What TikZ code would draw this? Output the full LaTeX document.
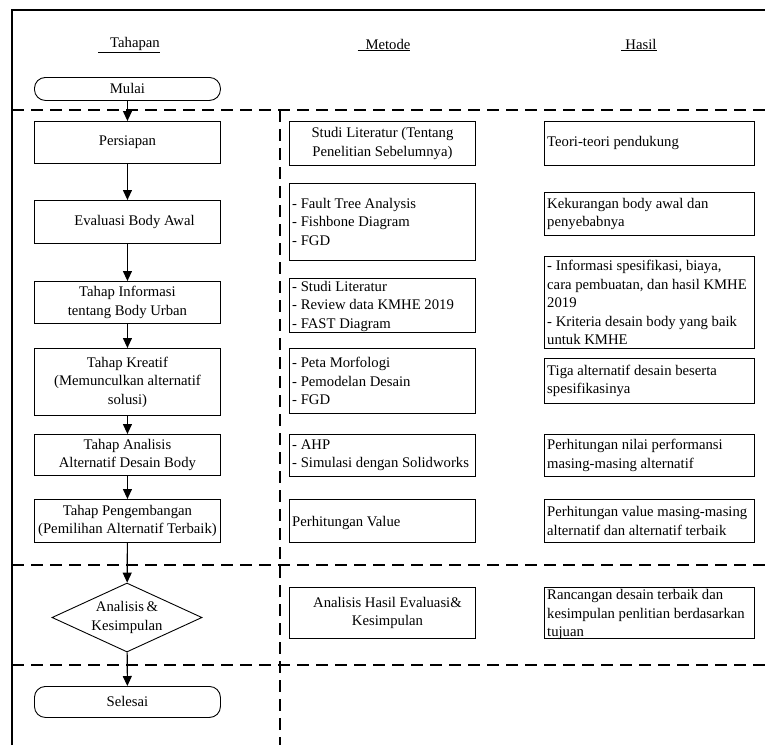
\documentclass[tikz,border=0pt]{standalone}
\usepackage{fontspec}
\setmainfont{Liberation Serif}
\usetikzlibrary{arrows.meta,shapes.geometric}
\begin{document}
\begin{tikzpicture}[x=1pt,y=-1pt,
  font=\fontsize{14.7}{18.5}\selectfont,
  bx/.style={draw, line width=0.9pt, rectangle, inner sep=0pt, anchor=north west, minimum width=#1},
  bx/.default=186pt,
  lbox/.style={bx, align=center},
  rbox/.style={draw, line width=0.9pt, rectangle, rounded corners=11pt, inner sep=0pt, anchor=north west, minimum width=186pt},
  txt/.style={anchor=west, align=left, inner sep=0pt},
  arr/.style={line width=1.1pt, -{Triangle[length=10pt,width=9pt]}},
  sep/.style={line width=2.6pt, dash pattern=on 12pt off 7pt},
  hdr/.style={inner sep=0pt}
]
\useasboundingbox (0,0) rectangle (765,745);
% frame
\draw[line width=1.1pt] (12,745) -- (12,10) -- (765,10);
% separators
\draw[sep] (12,110) -- (765,110);
\draw[sep] (280,110) -- (280,745);
\draw[sep] (12,565) -- (765,565);
\draw[sep] (12,665) -- (765,665);
% headers
\node[hdr] (hT) at (129,45) {\underline{\hspace{12pt}Tahapan}};
\node[hdr] (hM) at (384,45) {\underline{\hspace{8pt}Metode}};
\node[hdr] (hH) at (639,45) {\underline{\hspace{4pt}Hasil}};
% left column
\node[rbox, minimum height=23pt] (mulai) at (34,77) {Mulai};
\node[lbox, minimum height=42pt] (persiapan) at (34,121) {Persiapan};
\node[lbox, minimum height=43pt] (evaluasi) at (34,200) {\hspace{14pt}Evaluasi Body Awal};
\node[lbox, minimum height=42pt] (informasi) at (34,281) {Tahap Informasi\\tentang Body Urban};
\node[lbox, minimum height=67pt] (kreatif) at (34,348) {Tahap Kreatif\\(Memunculkan alternatif\\solusi)};
\node[lbox, minimum height=41pt] (analisis) at (34,434) {Tahap Analisis\\Alternatif Desain Body};
\node[lbox, minimum height=43pt] (pengembangan) at (34,499) {Tahap Pengembangan\\(Pemilihan Alternatif Terbaik)};
\node[diamond, draw, line width=0.9pt, minimum width=150pt, minimum height=69pt, inner sep=0pt] (dec) at (127,617.5) {};
\node[align=center, inner sep=0pt] (dect) at (dec) {Analisis\,\&\\Kesimpulan};
\node[rbox, minimum height=31pt] (selesai) at (34,686) {Selesai};
% arrows
\draw[arr] (mulai) -- (persiapan);
\draw[arr] (persiapan) -- (evaluasi);
\draw[arr] (evaluasi) -- (informasi);
\draw[arr] (informasi) -- (kreatif);
\draw[arr] (kreatif) -- (analisis);
\draw[arr] (analisis) -- (pengembangan);
\draw[arr] (pengembangan) -- (dec);
\draw[arr] (dec) -- (selesai);
% metode column
\node[lbox, minimum height=44pt] (m1) at (289,121) {Studi Literatur (Tentang\\Penelitian Sebelumnya)};
\node[bx, minimum height=77pt] (m2) at (289,183) {};
\node[txt] (m2t) at ([xshift=3pt]m2.west) {- Fault Tree Analysis\\- Fishbone Diagram\\- FGD};
\node[bx, minimum height=54pt] (m3) at (289,278) {};
\node[txt] (m3t) at ([xshift=3pt,yshift=-1pt]m3.west) {- Studi Literatur\\- Review data KMHE 2019\\- FAST Diagram};
\node[bx, minimum height=65pt] (m4) at (289,348) {};
\node[txt] (m4t) at ([xshift=3pt]m4.west) {- Peta Morfologi\\- Pemodelan Desain\\- FGD};
\node[bx, minimum height=42pt] (m5) at (289,434) {};
\node[txt] (m5t) at ([xshift=3pt]m5.west) {- AHP\\- Simulasi dengan Solidworks};
\node[bx, minimum height=43pt] (m6) at (289,499) {};
\node[txt] (m6t) at ([xshift=3pt,yshift=-2pt]m6.west) {Perhitungan Value};
\node[lbox, minimum height=51pt] (m7) at (289,587) {\hspace{10pt}Analisis Hasil Evaluasi\&\\\hspace{10pt}Kesimpulan};
% hasil column
\node[bx=210pt, minimum height=44pt] (h1) at (544,121) {};
\node[txt] (h1t) at ([xshift=3pt]h1.west) {Teori-teori pendukung};
\node[bx=210pt, minimum height=43pt] (h2) at (544,192) {};
\node[txt] (h2t) at ([xshift=3pt]h2.west) {Kekurangan body awal dan\\penyebabnya};
\node[bx=210pt, minimum height=92pt] (h3) at (544,256) {};
\node[txt] (h3t) at ([xshift=3pt]h3.west) {- Informasi spesifikasi, biaya,\\cara pembuatan, dan hasil KMHE\\2019\\- Kriteria desain body yang baik\\untuk KMHE};
\node[bx=210pt, minimum height=45pt] (h4) at (544,358) {};
\node[txt] (h4t) at ([xshift=3pt]h4.west) {Tiga alternatif desain beserta\\spesifikasinya};
\node[bx=210pt, minimum height=42pt] (h5) at (544,434) {};
\node[txt] (h5t) at ([xshift=3pt]h5.west) {Perhitungan nilai performansi\\masing-masing alternatif};
\node[bx=210pt, minimum height=43pt] (h6) at (544,499) {};
\node[txt] (h6t) at ([xshift=3pt]h6.west) {Perhitungan value masing-masing\\alternatif dan alternatif terbaik};
\node[bx=210pt, minimum height=51pt] (h7) at (544,587) {};
\node[txt] (h7t) at ([xshift=3pt,yshift=-2pt]h7.west) {Rancangan desain terbaik dan\\kesimpulan penlitian berdasarkan\\tujuan};
\end{tikzpicture}
\end{document}
